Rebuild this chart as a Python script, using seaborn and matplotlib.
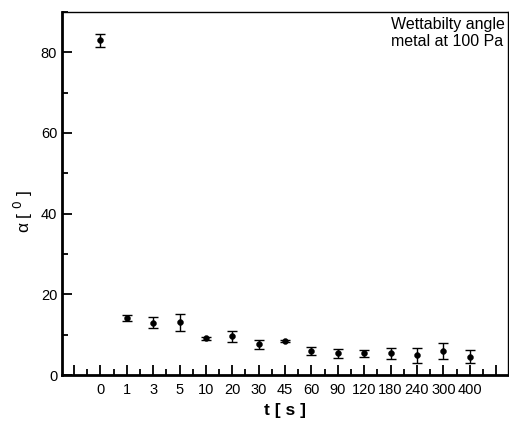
import numpy as np
import pandas as pd
import matplotlib
matplotlib.use("Agg")
import matplotlib.pyplot as plt
import seaborn as sns
from matplotlib.ticker import MultipleLocator

time_labels=['0','1','3','5','10','20','30','45','60','90','120','180','240','300','400']
angle=[82.9,14.2,13.0,13.1,9.1,9.6,7.6,8.5,5.9,5.4,5.4,5.4,4.9,6.0,4.6]
angle_err=[1.6,0.8,1.3,2.1,0.3,1.3,1.2,0.3,1.0,1.1,0.8,1.3,1.8,1.9,1.7]

df=pd.DataFrame({'pos':np.arange(len(time_labels)),'t':time_labels,'angle':angle,'err':angle_err})

sns.set_style("ticks")
plt.rcParams['font.family']=['Liberation Sans','DejaVu Sans']
plt.rcParams['text.color']='black'
plt.rcParams['axes.labelcolor']='black'
plt.rcParams['xtick.color']='black'
plt.rcParams['ytick.color']='black'

fig=plt.figure(figsize=(5.09,4.22),dpi=100)
ax=fig.add_axes([0.122,0.111,0.876,0.861])

ax.errorbar(df['pos'],df['angle'],yerr=df['err'],fmt='none',ecolor='black',
            elinewidth=1,capsize=3.5,capthick=1)
sns.scatterplot(data=df,x='pos',y='angle',color='black',s=18,edgecolor='black',ax=ax,zorder=3)

ax.set_xlim(-1.45,15.45)
ax.set_ylim(0,90)
ax.set_xticks(np.arange(-1,16))
ax.set_xticklabels(['']+time_labels+[''])
ax.xaxis.set_minor_locator(MultipleLocator(0.5))
ax.set_yticks([0,20,40,60,80])
ax.yaxis.set_minor_locator(MultipleLocator(10))

ax.tick_params(axis='both',which='major',direction='in',length=7,width=1.3,labelsize=10.5,colors='black')
ax.tick_params(axis='both',which='minor',direction='in',length=4,width=1.3)
ax.tick_params(axis='x',which='major',pad=6)

for s in ['left','bottom']:
    ax.spines[s].set_linewidth(2)
for s in ['top','right']:
    ax.spines[s].set_linewidth(1)
for s in ax.spines.values():
    s.set_color('black')

ax.set_xlabel('t [ s ]',fontsize=12.5,fontweight='bold',labelpad=4,color='black')
ax.set_ylabel(r'α [ $^{0}$ ]',fontsize=12.5,color='black')
ax.yaxis.set_label_coords(-0.06,0.45)

ax.text(0.738,0.985,'Wettabilty angle\nmetal at 100 Pa',transform=ax.transAxes,
        ha='left',va='top',fontsize=11.5,linespacing=1.15,color='black')

fig.savefig('out.png',dpi=100)
